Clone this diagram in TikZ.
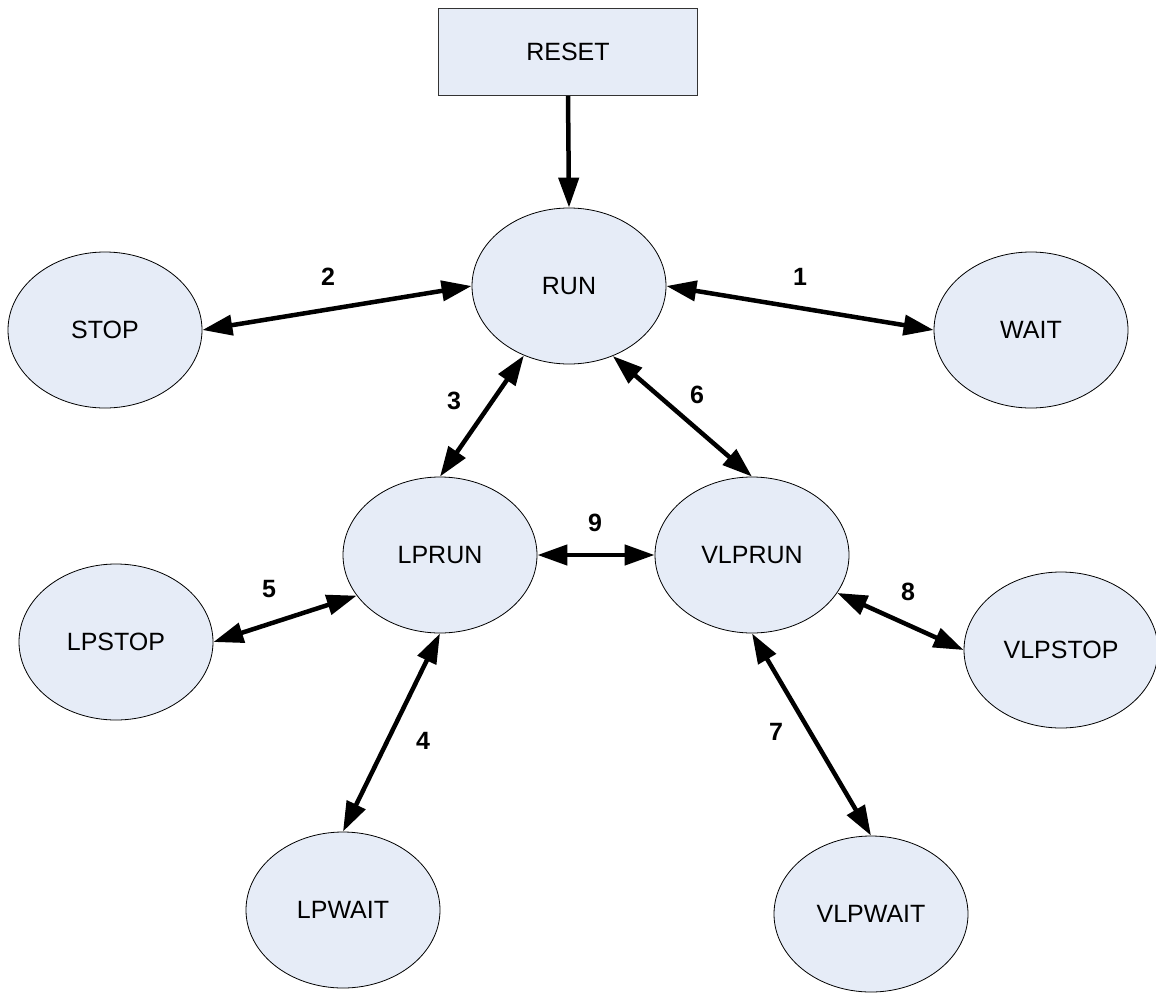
\documentclass[tikz,border=0pt]{standalone}
\usepackage{fontspec}
\setmainfont{Liberation Sans}
\usetikzlibrary{shapes.geometric,arrows.meta}
\definecolor{statefill}{HTML}{E6ECF7}

\begin{document}
\begin{tikzpicture}[x=1pt, y=-1pt,
  state/.style={ellipse, draw=black, line width=0.8pt, fill=statefill,
    minimum width=194pt, minimum height=156pt, inner sep=0pt,
    font=\fontsize{25}{30}\selectfont},
  resetbox/.style={rectangle, draw=black!80, line width=0.8pt, fill=statefill,
    minimum width=259pt, minimum height=87pt, inner sep=0pt,
    font=\fontsize{25}{30}\selectfont},
  link/.style={line width=4.5pt, {Triangle[length=30pt,width=20pt]}-{Triangle[length=30pt,width=20pt]}},
  onelink/.style={line width=4.5pt, -{Triangle[length=30pt,width=20pt]}},
  num/.style={font=\fontsize{25}{30}\selectfont\bfseries}]
\useasboundingbox (0,0) rectangle (1156,993);

\node[resetbox] (reset) at (568,52) {RESET};
\node[state] (run) at (569,286) {RUN};
\node[state] (stop) at (105,330) {STOP};
\node[state] (wait) at (1031,330) {WAIT};
\node[state] (lprun) at (440,555) {LPRUN};
\node[state] (vlprun) at (752,555) {VLPRUN};
\node[state] (lpstop) at (116,642) {LPSTOP};
\node[state] (vlpstop) at (1061,650) {VLPSTOP};
\node[state] (lpwait) at (343,910) {LPWAIT};
\node[state] (vlpwait) at (871,914) {VLPWAIT};

\draw[onelink] (reset.south) -- (run.north);
\draw[link] (run.east) -- (wait.west);
\draw[link] (stop.east) -- (run.west);
\draw[link] (run.237) -- (lprun.north);
\draw[link] (lprun.south) -- (lpwait.north);
\draw[link] (lpstop.east) -- (lprun.206);
\draw[link] (run.302) -- (vlprun.north);
\draw[link] (vlprun.south) -- (vlpwait.north);
\draw[link] (vlprun.336) -- (vlpstop.west);
\draw[link] (lprun.east) -- (vlprun.west);

\node[num] (n1) at (800,277) {1};
\node[num] (n2) at (328,277) {2};
\node[num] (n3) at (454,401) {3};
\node[num] (n4) at (423,741) {4};
\node[num] (n5) at (269,589) {5};
\node[num] (n6) at (697,395) {6};
\node[num] (n7) at (776,732) {7};
\node[num] (n8) at (908,592) {8};
\node[num] (n9) at (595,523) {9};
\end{tikzpicture}
\end{document}
